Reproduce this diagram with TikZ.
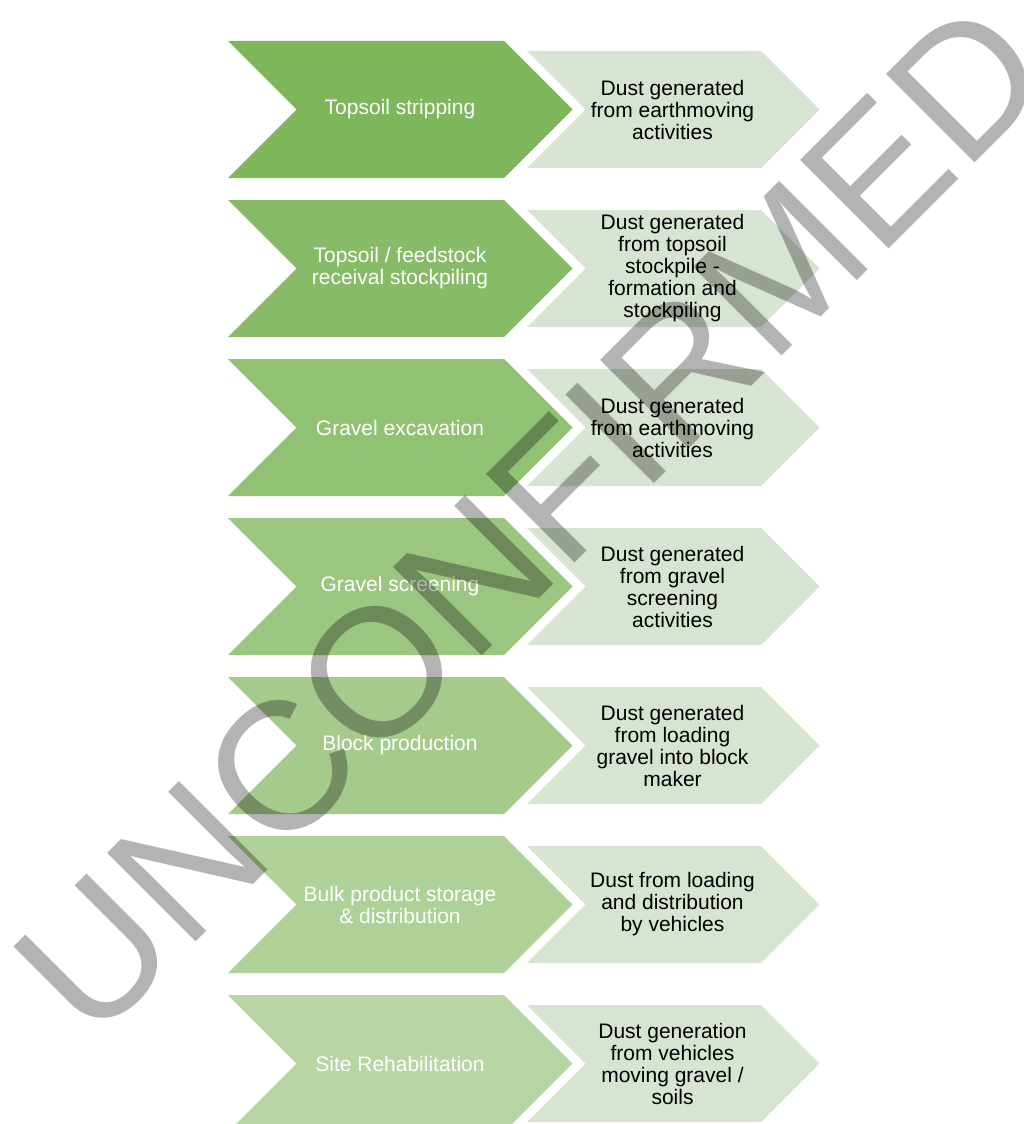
\documentclass[tikz,border=0pt]{standalone}
\usepackage{fontspec}
\setmainfont{Liberation Sans}

\definecolor{actdark}{RGB}{126,182,91}
\definecolor{actlight}{RGB}{184,214,164}
\definecolor{dustfill}{RGB}{216,228,210}
\definecolor{stampgray}{RGB}{179,179,179}

\tikzset{
  acttext/.style={text=white, align=center, inner sep=0pt, font=\fontsize{21}{22}\selectfont},
  dusttext/.style={text=black, align=center, inner sep=0pt, font=\fontsize{21}{22}\selectfont},
  stamp/.style={text=stampgray, blend mode=multiply, inner sep=0pt, font=\fontsize{182}{182}\selectfont}
}

\begin{document}
\begin{tikzpicture}[x=1pt,y=-1pt]
    \useasboundingbox (0,0) rectangle (1023,1124);
    \clip (0,0) rectangle (1023,1124);

    % Steps and the dust they raise, one row each
    \foreach \i/\p/\act/\dust in {
      1/0/{Topsoil stripping}/{Dust generated\\from earthmoving\\activities},
      2/17/{Topsoil / feedstock\\receival stockpiling}/{Dust generated\\from topsoil\\stockpile -\\formation and\\stockpiling},
      3/33/{Gravel excavation}/{Dust generated\\from earthmoving\\activities},
      4/50/{Gravel screening}/{Dust generated\\from gravel\\screening\\activities},
      5/67/{Block production}/{Dust generated\\from loading\\gravel into block\\maker},
      6/83/{Bulk product storage\\\& distribution}/{Dust from loading\\and distribution\\by vehicles},
      7/100/{Site Rehabilitation}/{Dust generation\\from vehicles\\moving gravel /\\soils}} {
      \pgfmathsetmacro{\c}{109.5+159*(\i-1)}

      % Big chevron
      \fill[actlight!\p!actdark] (228,\c-68.5) -- (504,\c-68.5) -- (572.5,\c)
        -- (504,\c+68.5) -- (228,\c+68.5) -- (296.5,\c) -- cycle;
      \node[acttext] (act\i) at (400,\c) {\act};

      % Small chevron
      \fill[dustfill] (527,\c-58.5) -- (761,\c-58.5) -- (819.5,\c)
        -- (761,\c+58.5) -- (527,\c+58.5) -- (585.5,\c) -- cycle;
      \node[dusttext] (dust\i) at (672.5,\c) {\dust};
    }

    % Watermark
    \node[stamp, rotate=45, anchor=base] (mark) at (575,563) {UNCONFIRMED};

\end{tikzpicture}
\end{document}
